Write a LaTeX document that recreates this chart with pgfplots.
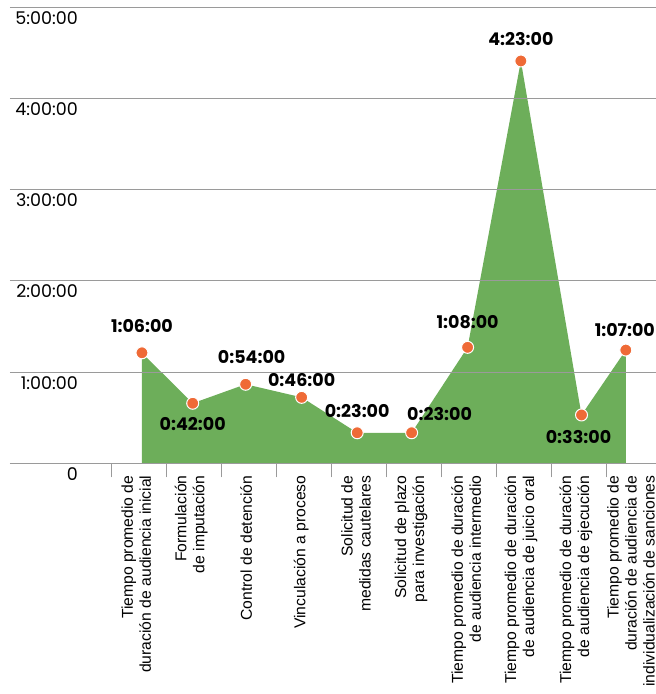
\documentclass[border=0pt]{standalone}
\usepackage{pgfplots}
\usepackage{pgfplotstable}
\pgfplotsset{compat=1.18}
\usepackage{fontspec}
\setmainfont{Liberation Sans}
\newfontfamily\numfont{Poppins}
\definecolor{areagreen}{HTML}{6DAE5A}
\definecolor{dotorange}{HTML}{EF6A36}
\definecolor{gridgray}{HTML}{9A9A9A}
\pgfplotstableread{
x y label dx dy
0.05 72.7 1:06:00 0 27
0.973 39.5 0:42:00 0 -21
1.936 52.0 0:54:00 6 27
2.955 43.4 0:46:00 0 17
3.965 20.1 0:23:00 0 22
4.955 20.1 0:23:00 28 19
5.973 76.3 1:08:00 0 25
6.942 264.7 4:23:00 0 22
8.045 31.8 0:33:00 -3 -22
8.851 74.5 1:07:00 -1 20
}\data
\begin{document}
\begin{tikzpicture}
\useasboundingbox (0,0) rectangle (656pt,-694pt);
\begin{axis}[
  at={(10pt,-463.3pt)}, anchor=south west,
  scale only axis, width=646pt, height=456pt,
  xmin=-2.35, xmax=9.40, ymin=0, ymax=300,
  axis x line*=bottom, axis y line*=left,
  y axis line style={draw=none},
  x axis line style={gridgray, line width=0.9pt, -},
  ytick={0,60,...,300},
  yticklabels={0,1:00:00,2:00:00,3:00:00,4:00:00,5:00:00},
  ymajorgrids, major grid style={gridgray, line width=0.9pt},
  ytick style={draw=none},
  yticklabel style={font=\numfont\fontsize{17.5}{17.5}\selectfont, anchor=north east, inner sep=0pt, xshift=82pt, yshift=-4pt},
  xtick={-0.5,0.5,...,8.5},
  xticklabels={},
  xtick style={gridgray, line width=0.9pt},
  tick align=outside,
  major tick length=14pt,
  extra x ticks={0,...,9},
  extra x tick labels={{Tiempo promedio de\\duración de audiencia inicial},{Formulación\\de imputación},{Control de detención},{Vinculación a proceso},{Solicitud de\\medidas cautelares},{Solicitud de plazo\\para investigación},{Tiempo promedio de duración\\de audiencia intermedio},{Tiempo promedio de duración\\de audiencia de juicio oral},{Tiempo promedio de duración\\de audiencia de ejecución},{Tiempo promedio de\\duración de audiencia de\\individualización de sanciones}},
  extra x tick style={major tick length=0pt, tick style={draw=none}, xticklabel style={rotate=90, anchor=east, align=right, inner sep=0pt, font=\fontsize{15.7}{18}\selectfont, xshift=-12pt, yshift=3pt}},
  axis on top,
  clip=false,
]
\addplot[draw=none, fill=areagreen] table[x=x,y=y] {\data} \closedcycle;
\addplot[only marks, mark=*, mark size=6pt, mark options={fill=dotorange, draw=white, line width=1pt},
  point meta=explicit symbolic,
  visualization depends on={\thisrow{dx}\as\dx},
  visualization depends on={\thisrow{dy}\as\dy},
  nodes near coords,
  every node near coord/.append style={anchor=center, xshift=\dx pt, yshift=\dy pt, text=black, font=\numfont\bfseries\fontsize{17.5}{17.5}\selectfont}
] table[x=x,y=y,meta=label] {\data};
\end{axis}
\end{tikzpicture}
\end{document}
